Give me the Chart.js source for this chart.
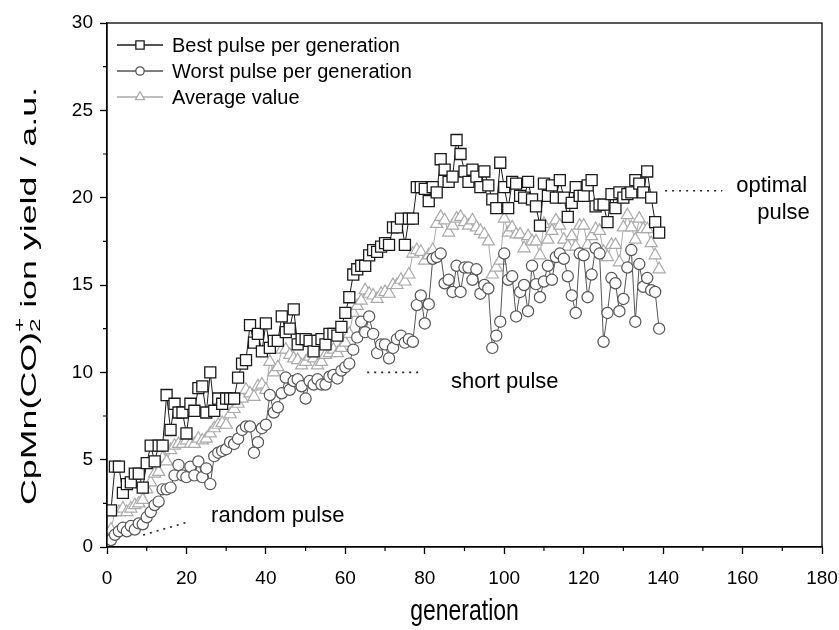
<!DOCTYPE html>
<html>
<head>
<meta charset="utf-8">
<script src="https://cdn.jsdelivr.net/npm/chart.js@4.4.0/dist/chart.umd.min.js"></script>
<style>
  html, body { margin: 0; padding: 0; background: #fff; }
  #wrap { width: 839px; height: 630px; position: relative; }
</style>
</head>
<body>
<div id="wrap"><canvas id="chart"></canvas></div>
<script>
// ion yield per generation
const bestPulse = [
  2.1, 4.6, 4.6, 3.1, 3.6, 3.7, 4.2, 4.2, 3.4, 4.8,
  5.8, 4.9, 5.8, 5.8, 8.7, 6.7, 8.2, 7.7, 7.7, 6.5,
  8.2, 7.8, 9.1, 9.2, 7.7, 10.0, 7.8, 8.5, 8.2, 8.5,
  8.5, 8.5, 9.7, 10.5, 10.7, 12.7, 11.7, 12.2, 11.2, 12.8,
  11.4, 11.8, 11.8, 13.2, 12.3, 12.5, 13.6, 11.6, 11.9, 11.9,
  11.8, 11.2, 11.8, 11.9, 11.6, 12.2, 12.2, 12.1, 12.6, 13.4,
  14.3, 15.6, 15.9, 16.1, 16.1, 16.7, 17.0, 16.9, 17.2, 17.4,
  17.3, 18.3, 18.3, 18.8, 17.3, 18.8, 18.8, 20.6, 20.6, 20.5,
  19.8, 20.6, 20.3, 22.2, 21.6, 20.9, 21.2, 23.3, 22.5, 21.5,
  20.9, 21.6, 21.2, 20.6, 21.5, 20.7, 19.9, 19.4, 22.0, 20.6,
  19.4, 20.9, 20.8, 20.1, 20.0, 20.9, 19.9, 19.5, 18.4, 20.8,
  20.1, 20.7, 20.0, 21.0, 20.0, 18.9, 19.7, 20.6, 20.1, 20.1,
  20.7, 21.0, 19.5, 19.6, 19.6, 18.6, 20.2, 19.4, 20.3, 20.0,
  20.2, 20.3, 21.0, 20.8, 20.3, 21.5, 20.0, 18.6, 18.0
];
const worstPulse = [
  0.4, 0.7, 0.9, 1.1, 0.9, 1.2, 1.0, 1.35, 1.3, 1.7,
  2.0, 2.4, 2.6, 3.3, 3.3, 3.4, 4.1, 4.7, 4.1, 4.0,
  4.6, 4.1, 4.9, 4.0, 4.5, 3.6, 5.2, 5.4, 5.5, 5.6,
  6.0, 5.9, 6.2, 6.7, 6.9, 6.9, 5.4, 6.0, 6.8, 7.0,
  8.7, 7.7, 8.0, 8.8, 9.7, 9.0, 9.5, 9.6, 9.2, 8.5,
  9.5, 9.3, 9.6, 9.3, 9.3, 9.75, 9.85, 9.65, 10.1, 10.3,
  10.5, 11.3, 12.0, 12.9, 12.3, 13.2, 12.2, 11.1, 11.6, 11.6,
  10.8, 11.4, 11.9, 12.1, 11.7, 11.9, 11.75, 13.85, 14.4, 12.8,
  13.9, 16.5, 16.6, 16.8, 15.1, 15.3, 14.6, 16.1, 14.6, 16.0,
  16.0, 15.3, 15.9, 14.5, 15.0, 14.8, 11.4, 12.1, 12.9, 16.8,
  15.3, 15.5, 13.2, 14.6, 15.0, 13.5, 16.1, 15.05, 14.3, 15.2,
  16.1, 15.3, 16.6, 16.8, 16.5, 15.5, 14.4, 13.4, 16.8, 16.7,
  14.3, 15.6, 17.1, 16.8, 11.75, 13.4, 15.4, 15.1, 13.5, 14.2,
  16.0, 17.0, 12.9, 16.2, 14.9, 15.4, 14.7, 14.6, 12.5
];
const averageValue = [
  1.0, 2.0, 2.0, 2.2, 2.0, 2.2, 2.4, 2.5, 2.7, 3.3,
  3.7, 4.2, 4.3, 5.1, 4.9, 5.55, 5.8, 5.9, 5.9, 6.1,
  5.9, 5.9, 6.2, 6.1, 6.2, 6.5, 6.8, 7.0, 7.1, 7.0,
  7.6, 7.9, 8.2, 8.5, 9.0, 8.8, 8.6, 9.2, 9.3, 9.0,
  10.6, 10.0, 10.3, 11.3, 11.3, 11.0, 10.8, 10.7, 10.4, 10.6,
  10.9, 10.8, 10.4, 10.6, 11.0, 11.1, 11.3, 11.1, 11.4, 11.7,
  12.2, 13.4, 13.8, 14.1, 14.7, 14.5, 14.4, 14.2, 14.5, 14.6,
  14.5, 15.0, 15.0, 15.3, 15.2, 15.6, 16.8, 17.0, 16.9, 16.4,
  16.7, 17.0, 18.5, 18.9, 18.7, 18.0, 18.4, 18.8, 18.9, 18.6,
  18.4, 18.7, 18.3, 18.1, 17.9, 17.5, 15.6, 16.0, 16.4, 18.8,
  18.0, 18.3, 17.9, 17.9, 17.1, 17.8, 17.5, 17.5, 16.7, 18.5,
  17.6, 18.1, 18.7, 18.4, 17.6, 17.2, 17.8, 17.2, 18.4, 18.4,
  17.3, 17.8, 18.2, 18.1, 16.9, 16.6, 17.3, 17.3, 16.3, 18.3,
  19.0, 18.3, 17.6, 18.8, 18.2, 18.2, 17.4, 16.7, 15.9
];
const generations = bestPulse.map((_, i) => i + 1);

const seriesLabels = ['Best pulse per generation', 'Worst pulse per generation', 'Average value'];
const xTicks = [0, 20, 40, 60, 80, 100, 120, 140, 160, 180];
const yTicks = [0, 5, 10, 15, 20, 25, 30];

// text notes on the plot: [label, x, y] in data units
const notes = [
  ['random pulse', 26.2, 1.8],
  ['short pulse', 86.6, 9.45],
  ['optimal', 158.4, 20.7],
  ['pulse', 163.7, 19.1]
];
// dotted guide lines: [x1, y1, x2, y2] in data units
const guides = [
  [9.1, 0.69, 20.4, 1.43],
  [65.5, 10.0, 78.3, 10.0],
  [140.5, 20.4, 154.9, 20.4]
];

const FONT = 'Liberation Sans, Arial, sans-serif';

function toPoints(values) {
  return values.map((v, i) => ({ x: generations[i], y: v }));
}

const extras = {
  id: 'extras',
  afterDraw(chart) {
    const { ctx, chartArea: a, scales: { x, y } } = chart;
    ctx.save();

    // frame
    ctx.strokeStyle = '#000';
    ctx.lineWidth = 1.3;
    ctx.strokeRect(a.left, a.top, a.right - a.left, a.bottom - a.top);

    // minor ticks
    ctx.lineWidth = 1.2;
    ctx.beginPath();
    for (let v = 10; v < 180; v += 20) {
      const px = x.getPixelForValue(v);
      ctx.moveTo(px, a.bottom); ctx.lineTo(px, a.bottom + 4);
    }
    for (let v = 2.5; v < 30; v += 5) {
      const py = y.getPixelForValue(v);
      ctx.moveTo(a.left, py); ctx.lineTo(a.left - 4, py);
    }
    ctx.stroke();

    // dotted guides
    ctx.setLineDash([2, 5]);
    ctx.lineWidth = 1.6;
    ctx.strokeStyle = '#222';
    guides.forEach(g => {
      ctx.beginPath();
      ctx.moveTo(x.getPixelForValue(g[0]), y.getPixelForValue(g[1]));
      ctx.lineTo(x.getPixelForValue(g[2]), y.getPixelForValue(g[3]));
      ctx.stroke();
    });
    ctx.setLineDash([]);

    // notes
    ctx.fillStyle = '#000';
    ctx.font = '22px ' + FONT;
    ctx.textBaseline = 'middle';
    ctx.textAlign = 'left';
    notes.forEach(n => ctx.fillText(n[0], x.getPixelForValue(n[1]), y.getPixelForValue(n[2])));

    // legend
    chart.data.datasets.forEach((ds, i) => {
      const ly = a.top + 22 + i * 26;
      ctx.strokeStyle = ds.borderColor;
      ctx.lineWidth = 1.3;
      ctx.beginPath();
      ctx.moveTo(a.left + 10, ly); ctx.lineTo(a.left + 56, ly);
      ctx.stroke();
      ctx.fillStyle = '#fff';
      ctx.strokeStyle = ds.pointBorderColor;
      Chart.helpers.drawPoint(ctx, {
        pointStyle: ds.pointStyle, radius: ds.pointRadius * 0.75, borderWidth: 1.2
      }, a.left + 33, ly);
      ctx.fillStyle = '#000';
      ctx.font = '20px ' + FONT;
      ctx.fillText(ds.label, a.left + 65, ly + 1);
    });

    // x title
    ctx.save();
    ctx.font = '23px ' + FONT;
    ctx.textAlign = 'center';
    ctx.translate((a.left + a.right) / 2, 612);
    ctx.scale(1, 1.3);
    ctx.fillText('generation', 0, 0);
    ctx.restore();

    // y title with subscript / superscript, stretched along its length like the figure
    ctx.save();
    ctx.translate(30, 296);
    ctx.rotate(-Math.PI / 2);
    const big = '22px ' + FONT, small = '15px ' + FONT;
    ctx.font = big;
    const w0 = ctx.measureText('CpMn(CO)').width;
    const w3 = ctx.measureText(' ion yield / a.u.').width;
    ctx.font = small;
    const w1 = Math.max(ctx.measureText('2').width, ctx.measureText('+').width);
    const total = w0 + w1 + w3;
    ctx.scale(418 / total, 1);
    let cx = -total / 2;
    ctx.textAlign = 'left';
    ctx.font = big; ctx.fillText('CpMn(CO)', cx, 0); cx += w0;
    ctx.font = small; ctx.fillText('2', cx, 6); ctx.fillText('+', cx, -10); cx += w1;
    ctx.font = big; ctx.fillText(' ion yield / a.u.', cx, 0);
    ctx.restore();

    ctx.restore();
  }
};

new Chart(document.getElementById('chart'), {
  type: 'line',
  data: {
    datasets: [
      {
        label: seriesLabels[0], data: toPoints(bestPulse),
        borderColor: '#1a1a1a', pointBorderColor: '#1a1a1a', backgroundColor: '#fff',
        pointStyle: 'rect', pointRadius: 7.8, pointBorderWidth: 1.3, borderWidth: 1
      },
      {
        label: seriesLabels[1], data: toPoints(worstPulse),
        borderColor: '#555', pointBorderColor: '#555', backgroundColor: '#fff',
        pointStyle: 'circle', pointRadius: 5.6, pointBorderWidth: 1.2, borderWidth: 1
      },
      {
        label: seriesLabels[2], data: toPoints(averageValue),
        borderColor: '#aaa', pointBorderColor: '#aaa', backgroundColor: '#fff',
        pointStyle: 'triangle', pointRadius: 7, pointBorderWidth: 1.2, borderWidth: 1
      }
    ]
  },
  options: {
    responsive: true,
    maintainAspectRatio: false,
    animation: false,
    layout: { padding: { left: 0, right: 17, top: 23, bottom: 0 } },
    plugins: { legend: { display: false }, tooltip: { enabled: false } },
    elements: { line: { tension: 0 }, point: { hoverRadius: 0 } },
    scales: {
      x: {
        type: 'linear', min: 0, max: 180,
        afterFit: s => { s.height = 83; s.paddingLeft = 0; s.paddingRight = 0; },
        afterBuildTicks: s => { s.ticks = xTicks.map(v => ({ value: v })); },
        grid: { drawOnChartArea: false, drawTicks: true, tickLength: 7, tickColor: '#000', tickWidth: 1.3 },
        border: { display: true, color: '#000', width: 1.3 },
        ticks: { color: '#000', font: { size: 19, family: FONT }, padding: 13, maxRotation: 0 }
      },
      y: {
        min: 0, max: 30,
        afterFit: s => { s.width = 107; s.paddingTop = 0; s.paddingBottom = 0; },
        afterBuildTicks: s => { s.ticks = yTicks.map(v => ({ value: v })); },
        grid: { drawOnChartArea: false, drawTicks: true, tickLength: 7, tickColor: '#000', tickWidth: 1.3 },
        border: { display: true, color: '#000', width: 1.3 },
        ticks: { color: '#000', font: { size: 19, family: FONT }, padding: 7 }
      }
    }
  },
  plugins: [extras]
});
</script>
</body>
</html>
